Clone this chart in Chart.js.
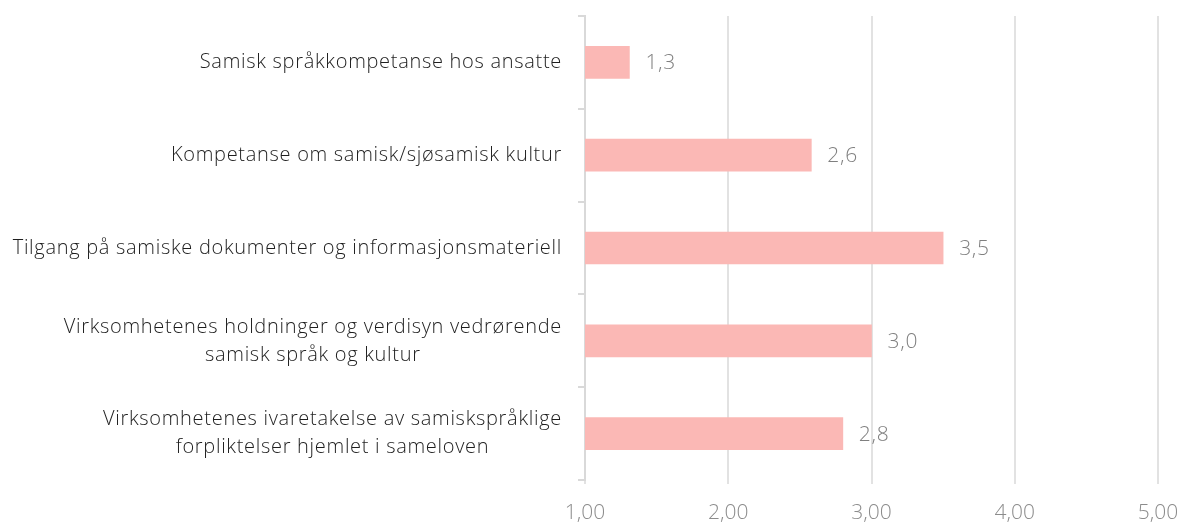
<!DOCTYPE html>
<html>
<head>
<meta charset="utf-8">
<script src="https://cdn.jsdelivr.net/npm/chart.js@4"></script>
<style>
  html, body { margin: 0; padding: 0; background: #fff; overflow: hidden; }
  #wrap { position: relative; width: 1189px; height: 540px; }
</style>
</head>
<body>
<div id="wrap"><canvas id="chart"></canvas></div>
<script>
const categories = [
  ['Samisk språkkompetanse hos ansatte'],
  ['Kompetanse om samisk/sjøsamisk kultur'],
  ['Tilgang på samiske dokumenter og informasjonsmateriell'],
  ['Virksomhetenes holdninger og verdisyn vedrørende', 'samisk språk og kultur'],
  ['Virksomhetenes ivaretakelse av samiskspråklige', 'forpliktelser hjemlet i sameloven']
];
const scores = [1.31, 2.58, 3.5, 3.0, 2.8];
const axisMin = 1;
const axisMax = 5;

const labelFont = '300 20px "Open Sans"';
const valueFont = '300 21px "Open Sans"';

// category labels: block right-aligned, lines centered inside the block
const categoryLabels = {
  id: 'categoryLabels',
  afterDraw(chart) {
    const ctx = chart.ctx;
    const yScale = chart.scales.y;
    ctx.save();
    ctx.font = labelFont;
    ctx.letterSpacing = '0.7px';
    ctx.fillStyle = '#1e1e1e';
    ctx.textAlign = 'center';
    ctx.textBaseline = 'middle';
    categories.forEach(function (lines, i) {
      const y = yScale.getPixelForTick(i);
      let w = 0;
      lines.forEach(function (l) { w = Math.max(w, ctx.measureText(l).width); });
      const cx = yScale.right - 23 - w / 2;
      const lh = 28;
      lines.forEach(function (l, j) {
        ctx.fillText(l, cx, y + (j - (lines.length - 1) / 2) * lh);
      });
    });
    ctx.restore();
  }
};

// value labels at the end of each bar
const valueLabels = {
  id: 'valueLabels',
  afterDatasetsDraw(chart) {
    const ctx = chart.ctx;
    const meta = chart.getDatasetMeta(0);
    ctx.save();
    ctx.font = valueFont;
    ctx.letterSpacing = '0.7px';
    ctx.fillStyle = '#7f7f7f';
    ctx.textAlign = 'left';
    ctx.textBaseline = 'middle';
    meta.data.forEach(function (bar, i) {
      ctx.fillText(scores[i].toFixed(1).replace('.', ','), bar.x + 16, bar.y + 1);
    });
    ctx.restore();
  }
};

new Chart(document.getElementById('chart'), {
  type: 'bar',
  data: {
    labels: categories,
    datasets: [{
      data: scores,
      backgroundColor: '#FBB8B5',
      borderWidth: 0,
      barThickness: 32
    }]
  },
  options: {
    indexAxis: 'y',
    responsive: true,
    maintainAspectRatio: false,
    animation: false,
    layout: { padding: { top: 16, right: 31, left: 0, bottom: 0 } },
    plugins: {
      legend: { display: false },
      tooltip: { enabled: false }
    },
    scales: {
      x: {
        min: axisMin,
        max: axisMax,
        afterFit: function (scale) {
          scale.height = 60;
          scale.paddingLeft = 0;
          scale.paddingRight = 0;
        },
        border: { display: false },
        grid: { color: '#e2e2e2', lineWidth: 2, tickLength: 4 },
        ticks: {
          stepSize: 1,
          padding: 16,
          color: '#8c8c8c',
          font: { family: 'Open Sans', size: 21, weight: 300 },
          callback: function (v) { return v.toFixed(2).replace('.', ','); }
        }
      },
      y: {
        afterFit: function (scale) { scale.width = 585; },
        border: { display: true, color: '#d9d9d9', width: 2 },
        grid: { drawOnChartArea: false, offset: true, tickLength: 7, color: '#d9d9d9', lineWidth: 2 },
        ticks: { display: false }
      }
    }
  },
  plugins: [categoryLabels, valueLabels]
});
</script>
</body>
</html>
